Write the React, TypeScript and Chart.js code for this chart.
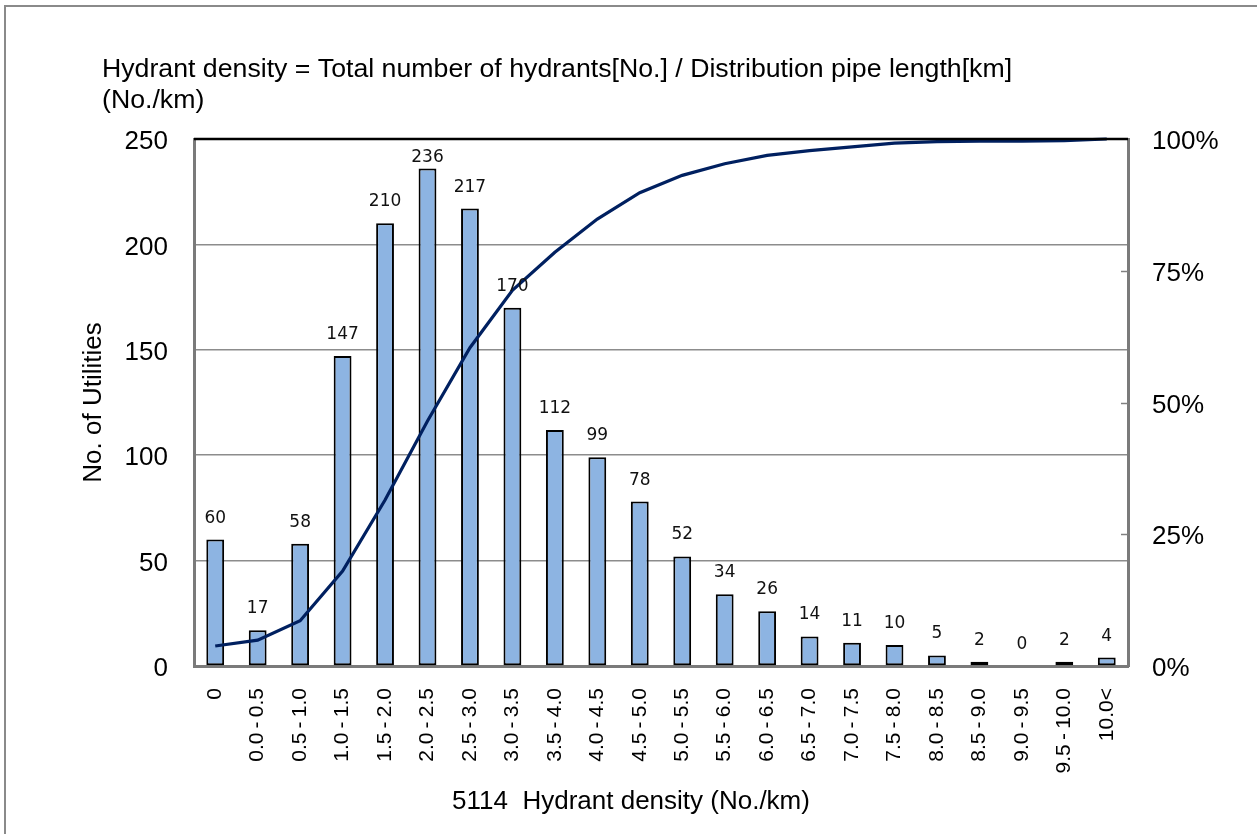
import React, { useEffect, useRef } from "react";
import { Chart, registerables } from "chart.js";

Chart.register(...registerables);

const categories = [
  "0", "0.0-0.5", "0.5-1.0", "1.0-1.5", "1.5-2.0", "2.0-2.5", "2.5-3.0", "3.0-3.5",
  "3.5-4.0", "4.0-4.5", "4.5-5.0", "5.0-5.5", "5.5-6.0", "6.0-6.5", "6.5-7.0",
  "7.0-7.5", "7.5-8.0", "8.0-8.5", "8.5-9.0", "9.0-9.5", "9.5-10.0", "10.0<",
];
const utilityCounts = [60, 17, 58, 147, 210, 236, 217, 170, 112, 99, 78, 52, 34, 26, 14, 11, 10, 5, 2, 0, 2, 4];
const cumulativePercent = [
  3.8, 4.9, 8.6, 18.0, 31.5, 46.5, 60.4, 71.3, 78.5, 84.8, 89.8, 93.1, 95.3, 96.9, 97.8,
  98.5, 99.2, 99.5, 99.6, 99.6, 99.7, 100,
];
const leftTicks = [0, 50, 100, 150, 200, 250];
const rightTicks = [0, 25, 50, 75, 100];
const titleLines = [
  "Hydrant density = Total number of hydrants[No.] / Distribution pipe length[km]",
  "(No./km)",
];
const xTitle = "5114  Hydrant density (No./km)";
const yTitle = "No. of Utilities";

const FONT = '"Liberation Sans", Arial, sans-serif';

const decorPlugin = {
  id: "decor",
  beforeDraw(chart: any) {
    const ctx = chart.ctx;
    ctx.save();
    ctx.fillStyle = "#ffffff";
    ctx.fillRect(0, 0, chart.width, chart.height);
    ctx.strokeStyle = "#8a8a8a";
    ctx.lineWidth = 2;
    ctx.strokeRect(5, 6, chart.width + 20, chart.height + 20);
    ctx.restore();
  },
  afterDatasetsDraw(chart: any) {
    const ctx = chart.ctx;
    const area = chart.chartArea;
    const meta = chart.getDatasetMeta(0);
    ctx.save();
    ctx.font = '17px "DejaVu Sans", sans-serif';
    ctx.textAlign = "center";
    ctx.textBaseline = "alphabetic";
    ctx.fillStyle = "#111";
    meta.data.forEach((el: any, i: number) => {
      const y = Math.max(el.y - 17, area.top + 23);
      ctx.fillText(String(utilityCounts[i]), el.x, y);
    });
    ctx.restore();
  },
  afterDraw(chart: any) {
    const ctx = chart.ctx;
    const area = chart.chartArea;
    ctx.save();
    // chart title
    ctx.fillStyle = "#000";
    ctx.font = `26.7px ${FONT}`;
    ctx.textAlign = "left";
    ctx.textBaseline = "alphabetic";
    titleLines.forEach((t, i) => ctx.fillText(t, 102, 77 + i * 31));
    // x axis title
    ctx.font = `26px ${FONT}`;
    ctx.textAlign = "center";
    ctx.fillText(xTitle, 631, 809);
    // inward ticks on right axis
    const y1 = chart.scales.y1;
    ctx.strokeStyle = "#808080";
    ctx.lineWidth = 1.5;
    rightTicks.slice(1, -1).forEach((v) => {
      const py = Math.round(y1.getPixelForValue(v)) + 0.5;
      ctx.beginPath();
      ctx.moveTo(area.right - 7, py);
      ctx.lineTo(area.right, py);
      ctx.stroke();
    });
    // top border
    ctx.strokeStyle = "#000";
    ctx.lineWidth = 2.5;
    ctx.beginPath();
    ctx.moveTo(area.left, area.top);
    ctx.lineTo(area.right, area.top);
    ctx.stroke();
    ctx.restore();
  },
};

export default function App() {
  const canvasRef = useRef<HTMLCanvasElement | null>(null);

  useEffect(() => {
    if (!canvasRef.current) return;
    const chart = new Chart(canvasRef.current, {
      type: "bar",
      data: {
        labels: categories,
        datasets: [
          {
            type: "bar",
            label: "No. of Utilities",
            data: utilityCounts,
            backgroundColor: "#8DB4E2",
            borderColor: "#000000",
            borderWidth: 2,
            borderSkipped: false,
            barPercentage: 0.42,
            categoryPercentage: 1,
            yAxisID: "y",
            order: 2,
          },
          {
            type: "line",
            label: "Cumulative",
            data: cumulativePercent,
            borderColor: "#002060",
            backgroundColor: "#002060",
            borderWidth: 3.2,
            pointRadius: 0,
            tension: 0,
            fill: false,
            yAxisID: "y1",
            order: 1,
            clip: false,
          } as any,
        ],
      },
      options: {
        responsive: false,
        animation: false,
        events: [],
        layout: { padding: { top: 139, left: 0, right: 0, bottom: 0 } },
        plugins: {
          legend: { display: false },
          tooltip: { enabled: false },
          title: { display: false },
        },
        scales: {
          x: {
            type: "category",
            offset: true,
            grid: { display: false, drawTicks: false },
            border: { display: true, color: "#7a7a7a", width: 3 },
            ticks: {
              autoSkip: false,
              minRotation: 90,
              maxRotation: 90,
              padding: 22,
              color: "#000",
              font: { family: FONT, size: 21 },
              callback: function (this: any, v: any) {
                return String(this.getLabelForValue(v)).replace("-", "\u2009-\u2009");
              },
            },
            afterFit(scale: any) {
              scale.height = 168;
            },
          },
          y: {
            type: "linear",
            position: "left",
            min: 0,
            max: 250,
            afterBuildTicks(scale: any) {
              scale.ticks = leftTicks.map((v) => ({ value: v }));
            },
            grid: {
              drawTicks: false,
              color: "#8c8c8c",
              lineWidth: 1.5,
            },
            border: { display: true, color: "#7a7a7a", width: 3 },
            ticks: {
              padding: 26,
              labelOffset: 3,
              color: "#000",
              font: { family: FONT, size: 26 },
            },
            title: {
              display: true,
              text: yTitle,
              color: "#000",
              font: { family: FONT, size: 26 },
              padding: { top: 78, bottom: 0 },
            },
            afterFit(scale: any) {
              scale.width = 194;
            },
          },
          y1: {
            type: "linear",
            position: "right",
            min: 0,
            max: 100,
            afterBuildTicks(scale: any) {
              scale.ticks = rightTicks.map((v) => ({ value: v }));
            },
            grid: { drawOnChartArea: false, drawTicks: false },
            border: { display: true, color: "#7a7a7a", width: 3 },
            ticks: {
              padding: 24,
              labelOffset: 3,
              color: "#000",
              font: { family: FONT, size: 26 },
              callback: (v: any) => `${v}%`,
            },
            afterFit(scale: any) {
              scale.width = 129;
            },
          },
        },
      } as any,
      plugins: [decorPlugin],
    });
    return () => chart.destroy();
  }, []);

  return (
    <div style={{ position: "fixed", left: 0, top: 0, width: 1257, height: 834, overflow: "hidden", background: "#fff" }}>
      <canvas ref={canvasRef} width={1257} height={834} style={{ width: 1257, height: 834, display: "block" }} />
    </div>
  );
}
